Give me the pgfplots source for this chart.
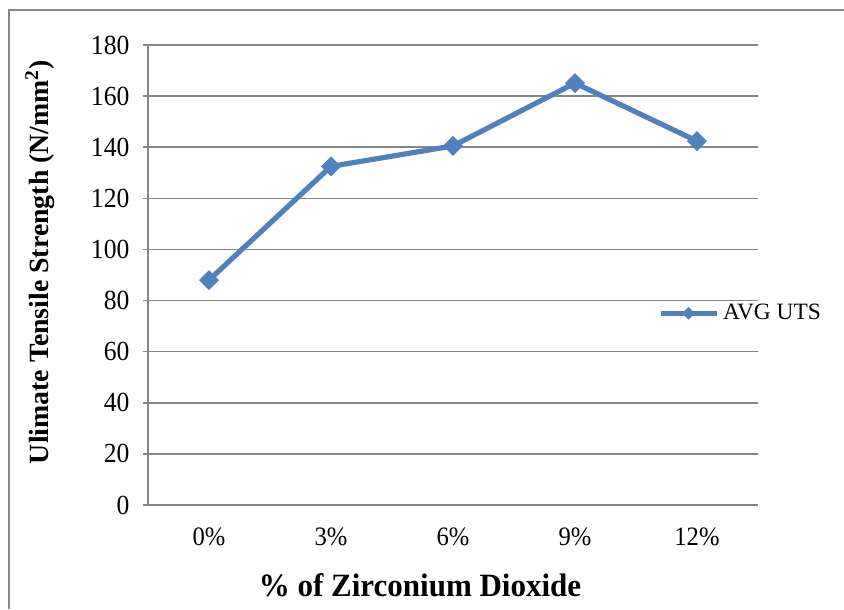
\documentclass[border=0pt]{standalone}
\usepackage{pgfplots}
\pgfplotsset{compat=1.18}
\usepackage{fontspec}
\setmainfont{Liberation Serif}
\definecolor{xlblue}{HTML}{4F81BD}
\definecolor{gridgray}{HTML}{868686}
\begin{document}
\fontsize{12.3}{15}\selectfont
\begin{tikzpicture}[x=1pt,y=1pt]
\begin{axis}[
  scale only axis,
  width=305pt, height=230pt,
  xmin=-0.5, xmax=4.5,
  ymin=0, ymax=180,
  ytick={0,20,...,180},
  xtick={0,1,2,3,4},
  xticklabels={0\%,3\%,6\%,9\%,12\%},
  /pgf/number format/assume math mode=true,
  axis x line*=bottom, axis y line*=left,
  axis line style={gridgray, line width=0.75pt, -},
  ymajorgrids,
  grid style={gridgray, line width=0.75pt},
  major x tick style={draw=none},
  ytick style={gridgray, line width=0.75pt},
  tick align=outside,
  major tick length=2.5pt,
  yticklabel style={font=\fontsize{12.8}{15}\selectfont, xshift=-2.5pt, yscale=1.08},
  xticklabel style={font=\fontsize{12.3}{15}\selectfont, yshift=-4.5pt, yscale=1.08},
  clip=false,
  legend style={at={(rel axis cs:0.832,0.417)}, anchor=west, draw=none, fill=none,
    font=\fontsize{11.7}{14}\selectfont, inner sep=1pt},
  legend cell align=left,
  legend image code/.code={\draw[mark repeat=2,mark phase=2, mark size=2pt] plot coordinates {(0pt,0pt)(14pt,0pt)(28pt,0pt)};},
]
\addplot[color=xlblue, line width=2.6pt, mark=square*, mark size=3.3pt,
  mark options={rotate=45, fill=xlblue, line width=0.5pt}]
  coordinates {(0,88.0) (1,132.5) (2,140.5) (3,165.1) (4,142.4)};
\addlegendentry{AVG UTS}
\node[rotate=90, font=\bfseries\fontsize{13.9}{17}\selectfont] at (rel axis cs:-0.177,0.528) {Ulimate Tensile Strength (N/mm\textsuperscript{2})};
\node[font=\bfseries\fontsize{15.5}{18}\selectfont, yscale=1.05] at (rel axis cs:0.446,-0.174) {\% of Zirconium Dioxide};
\coordinate (BL) at (rel axis cs:-0.2426,-0.2261);
\coordinate (TR) at (rel axis cs:1.1410,1.0978);
\coordinate (B1) at (rel axis cs:-0.2279,-0.2261);
\coordinate (B2) at (rel axis cs:-0.2279,1.0761);
\coordinate (B3) at (rel axis cs:1.1410,1.0761);
\end{axis}
\draw[gridgray, line width=0.75pt] (B1) -- (B2) -- (B3);
\pgfresetboundingbox
\useasboundingbox (BL) rectangle (TR);
\end{tikzpicture}
\end{document}
